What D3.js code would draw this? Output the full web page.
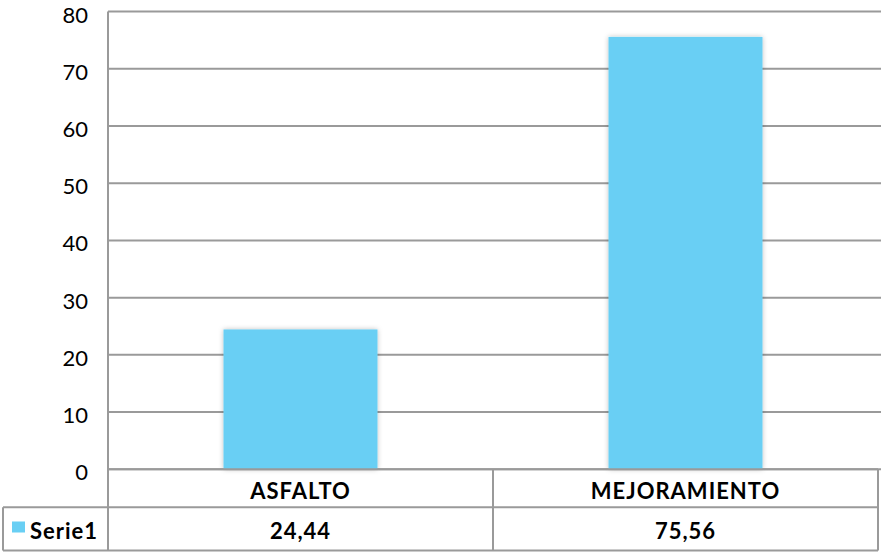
<!DOCTYPE html>
<html><head><meta charset="utf-8">
<script src="https://cdn.jsdelivr.net/npm/d3@7"></script>
<style>body{margin:0;background:#fff}svg{display:block}</style>
</head><body>
<svg id="c" width="881" height="552"></svg>
<script>
const categories = ["ASFALTO", "MEJORAMIENTO"];
const values = [24.44, 75.56];
const valueLabels = ["24,44", "75,56"];
const seriesName = "Serie1";
const yTicks = [0, 10, 20, 30, 40, 50, 60, 70, 80];

(function () {
const svg = d3.select("#c");
const pL = 108, pR = 878, pT = 11.5, pB = 469.3;
const font = "Lato, 'Open Sans', sans-serif";
const grid = "#9a9a9a";
const barColor = "#69CFF4";

const x = d3.scaleBand().domain(categories).range([pL, pR]).paddingInner(0.6).paddingOuter(0.3);
const y = d3.scaleLinear().domain([0, 80]).range([pB, pT]);

const defs = svg.append("defs");
const f = defs.append("filter").attr("id", "sh").attr("x", "-10%").attr("y", "-10%").attr("width", "120%").attr("height", "120%");
f.append("feDropShadow").attr("dx", 0).attr("dy", 0).attr("stdDeviation", 2.5).attr("flood-color", "#000").attr("flood-opacity", 0.25);

svg.append("g").selectAll("line").data(yTicks).join("line")
  .attr("x1", pL).attr("x2", 881)
  .attr("y1", d => y(d)).attr("y2", d => y(d))
  .attr("stroke", grid).attr("stroke-width", 2);

const ya = svg.append("g").attr("transform", `translate(${pL},0)`)
  .call(d3.axisLeft(y).tickValues(yTicks).tickSize(0).tickPadding(20));
ya.select(".domain").remove();
ya.selectAll("text").attr("font-family", font).attr("font-size", 22).attr("fill", "#000").attr("dy", "0.48em");
svg.append("line").attr("x1", pL).attr("x2", pL).attr("y1", pT).attr("y2", 551)
  .attr("stroke", grid).attr("stroke-width", 2);

svg.append("g").selectAll("rect").data(values).join("rect")
  .attr("x", (d, i) => x(categories[i])).attr("width", x.bandwidth())
  .attr("y", d => y(d)).attr("height", d => y(0) - y(d))
  .attr("fill", barColor).attr("filter", "url(#sh)");

const rowMid = 507.3, rowBot = 550.5;
const tbl = svg.append("g").attr("stroke", grid).attr("stroke-width", 2).attr("fill", "none");
tbl.append("line").attr("x1", pL).attr("x2", pR).attr("y1", pB).attr("y2", pB);
tbl.append("line").attr("x1", 3).attr("x2", pR).attr("y1", rowMid).attr("y2", rowMid);
tbl.append("line").attr("x1", 3).attr("x2", pR).attr("y1", rowBot).attr("y2", rowBot);
tbl.append("line").attr("x1", 3).attr("x2", 3).attr("y1", rowMid).attr("y2", rowBot);
tbl.append("line").attr("x1", pR).attr("x2", pR).attr("y1", pB).attr("y2", rowBot);
const step = x.step();
tbl.selectAll(".div").data(categories.slice(1)).join("line")
  .attr("x1", d => x(d) - step * x.paddingInner() / 2).attr("x2", d => x(d) - step * x.paddingInner() / 2)
  .attr("y1", pB).attr("y2", rowBot);

svg.append("g").selectAll("text").data(categories).join("text")
  .attr("x", d => x(d) + x.bandwidth() / 2).attr("y", 499)
  .attr("text-anchor", "middle").attr("font-family", font).attr("font-weight", "bold")
  .attr("font-size", 22).attr("letter-spacing", 1).text(d => d);
svg.append("g").selectAll("text").data(valueLabels).join("text")
  .attr("x", (d, i) => x(categories[i]) + x.bandwidth() / 2).attr("y", 539)
  .attr("text-anchor", "middle").attr("font-family", font).attr("font-weight", "bold")
  .attr("font-size", 22).attr("letter-spacing", 1).text(d => d);

svg.append("rect").attr("x", 12).attr("y", 521.5).attr("width", 13).attr("height", 11).attr("fill", barColor);
svg.append("text").attr("x", 30).attr("y", 539).attr("font-family", font).attr("font-weight", "bold")
  .attr("font-size", 22).attr("letter-spacing", 1).text(seriesName);
})();
</script>
</body></html>
